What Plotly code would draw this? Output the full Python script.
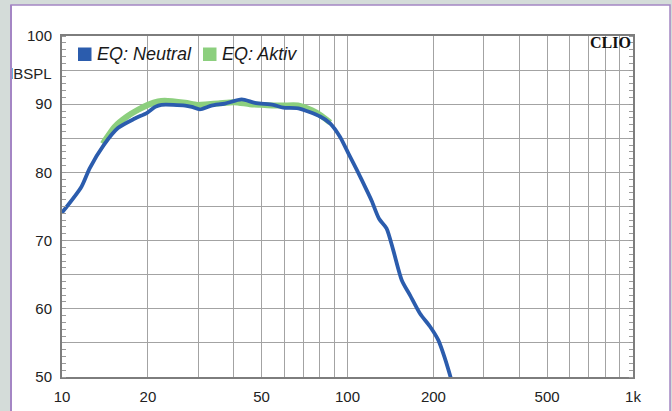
import plotly.graph_objects as go

# ---- data ----
neutral_freq = [10, 11.7, 12.5, 14.0, 15.7, 18.0, 19.8, 21.2, 22.3, 27.0, 28.5, 30.4, 33.4,
                37.2, 42.6, 47.4, 55.0, 59.6, 67.3, 80.2, 86.9, 94.2, 100.7, 107.7, 116.7,
                121.6, 129.0, 137.0, 144.6, 154.9, 165.5, 179.4, 194.5, 208.0, 219.5, 228.5, 233.0]
neutral_db = [74.1, 77.9, 80.6, 84.0, 86.5, 87.9, 88.7, 89.6, 89.9, 89.8, 89.6, 89.25, 89.8,
              90.1, 90.7, 90.2, 89.9, 89.5, 89.4, 88.2, 87.2, 85.2, 82.8, 80.4, 77.4,
              75.8, 73.2, 71.8, 68.6, 64.2, 62.0, 59.3, 57.4, 55.4, 52.7, 50.3, 49.0]

aktiv_freq = [13.9, 14.1, 15.3, 16.9, 18.5, 20.0, 21.7, 22.9, 27.0, 29.8, 32.5, 35.3, 40.0,
              45.5, 50.0, 55.0, 60.0, 67.0, 75.0, 80.2, 87.0]
aktiv_db = [84.2, 84.6, 86.7, 88.2, 89.2, 89.9, 90.4, 90.5, 90.2, 89.9, 90.0, 90.1, 90.3,
            90.0, 89.9, 89.8, 89.8, 89.8, 89.1, 88.4, 87.3]

x_grid_vals = [10, 20, 30, 40, 50, 60, 70, 80, 90, 100, 200, 300, 400, 500, 600, 700, 800, 900, 1000]
x_tick_text = ["10", "20", "", "", "50", "", "", "", "", "100", "200", "", "", "500", "", "", "", "", "1k"]
y_grid_vals = [50, 55, 60, 65, 70, 75, 80, 85, 90, 95, 100]
y_tick_text = ["50", "", "60", "", "70", "", "80", "", "90", "", "100"]

series_names = ["EQ: Neutral", "EQ: Aktiv"]
series_colors = ["#2b5cad", "#8ccf7e"]

W, H = 672, 411
L, R, T, B = 62, 39, 36, 34
PW, PH = W - L - R, H - T - B
BG = "#d4dcd9"
FRAME = "#a486c4"


def px_x(p):
    return (p - L) / PW


def px_y(p):
    return (H - B - p) / PH


fig = go.Figure()
fig.add_trace(go.Scatter(x=aktiv_freq, y=aktiv_db, mode="lines", name=series_names[1],
                         line=dict(color=series_colors[1], width=6, shape="spline", smoothing=0.7),
                         showlegend=False))
fig.add_trace(go.Scatter(x=neutral_freq, y=neutral_db, mode="lines", name=series_names[0],
                         line=dict(color=series_colors[0], width=3.8, shape="spline", smoothing=0.7),
                         showlegend=False))

shapes = [
    # white panel with purple frame
    dict(type="rect", xref="paper", yref="paper", layer="below",
         x0=px_x(11), x1=px_x(670), y0=px_y(430), y1=px_y(5),
         fillcolor="white", line=dict(color=FRAME, width=1.5)),
    # legend squares
    dict(type="rect", xref="paper", yref="paper",
         x0=px_x(78), x1=px_x(91.5), y0=px_y(61), y1=px_y(47.5),
         fillcolor=series_colors[0], line=dict(width=0)),
    dict(type="rect", xref="paper", yref="paper",
         x0=px_x(203), x1=px_x(216.5), y0=px_y(61), y1=px_y(47.5),
         fillcolor=series_colors[1], line=dict(width=0)),
]

legend_font = dict(family="Liberation Sans, Arial, sans-serif", size=18, color="#1a1a1a", style="italic")
annotations = [
    dict(text="dBSPL", xref="paper", yref="paper", x=px_x(54.3), y=px_y(73), xanchor="right",
         yanchor="middle", showarrow=False,
         font=dict(family="Liberation Sans, Arial, sans-serif", size=15, color="#222")),
    # grey margin strip outside the white panel (clips the label like the original)
    dict(text=" ", xref="paper", yref="paper", x=px_x(0), y=px_y(0), xanchor="left", yanchor="top",
         width=10, height=420, bgcolor=BG, borderwidth=0, borderpad=0, showarrow=False),
    dict(text=" ", xref="paper", yref="paper", x=px_x(10.2), y=px_y(4.5), xanchor="left", yanchor="top",
         width=1.6, height=420, bgcolor=FRAME, borderwidth=0, borderpad=0, showarrow=False),
    dict(text=series_names[0], xref="paper", yref="paper", x=px_x(95), y=px_y(54.5),
         xanchor="left", yanchor="middle", showarrow=False, font=legend_font),
    dict(text=series_names[1], xref="paper", yref="paper", x=px_x(220), y=px_y(54.5),
         xanchor="left", yanchor="middle", showarrow=False, font=legend_font),
    dict(text="<b>CLIO</b>", xref="paper", yref="paper", x=px_x(633), y=px_y(43),
         xanchor="right", yanchor="middle", showarrow=False,
         font=dict(family="Liberation Serif, Times New Roman, serif", size=16, color="#111")),
]

axis_font = dict(family="Liberation Sans, Arial, sans-serif", size=15, color="#222")
fig.update_layout(
    width=W, height=H,
    margin=dict(l=L, r=R, t=T, b=B, pad=0),
    paper_bgcolor=BG,
    plot_bgcolor="white",
    shapes=shapes,
    annotations=annotations,
    showlegend=False,
    xaxis=dict(type="log", range=[1, 3], tickmode="array", tickvals=x_grid_vals, ticktext=x_tick_text,
               showgrid=True, gridcolor="#a3a3a3", gridwidth=1, ticks="", tickfont=axis_font,
               showline=True, linecolor="#7d7d7d", linewidth=2, mirror=True, zeroline=False,
               ticklabelstandoff=5, automargin=False),
    yaxis=dict(range=[50, 100], tickmode="array", tickvals=y_grid_vals, ticktext=y_tick_text,
               showgrid=True, gridcolor="#a3a3a3", gridwidth=1, ticks="", tickfont=axis_font,
               showline=True, linecolor="#7d7d7d", linewidth=2, mirror="allticks", zeroline=False,
               ticklabelstandoff=5, automargin=False,
               minor=dict(dtick=1, ticks="inside", ticklen=4, tickcolor="#9a9a9a", tickwidth=1,
                          showgrid=False)),
)

fig.write_html("out.html", config={"displayModeBar": False},
               post_script="document.body.style.margin='0';document.body.style.overflow='hidden';")
